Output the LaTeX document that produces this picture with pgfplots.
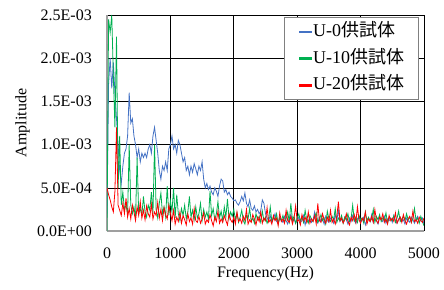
\documentclass[border=0pt]{standalone}
\usepackage{fontspec}
\setmainfont{Liberation Serif}
\newfontfamily\cjk{Noto Sans CJK JP}
\usepackage{pgfplots}
\usepackage{pgfplotstable}
\pgfplotsset{compat=1.18}
\definecolor{cblue}{HTML}{4472C4}
\definecolor{cgreen}{HTML}{00B050}
\definecolor{cred}{HTML}{FF0000}
% amplitudes in units of 1E-04, one row every 25 Hz from 0 to 5000 Hz
\pgfplotstableread[row sep=\\]{
b g r\\
2 0 5\\ 17 24.5 4.2\\ 20 23 3.6\\ 16.5 25 2.8\\ 19.5 18 2.2\\ 16 12 4.6\\ 13 22.5 12\\ 10 5 3\\ 7 11 2.4\\ 5.5 3 1.8\\
7.5 4.5 3.2\\ 9 2.5 2\\ 9.5 3 3.8\\ 11 2 1.6\\ 16 10 2.6\\ 12.5 3 1.4\\ 13 2 3\\ 11 2.8 2.2\\ 10 1.5 1.2\\ 8.5 8.5 2.8\\
9.5 2 1.8\\ 8 2.6 3.4\\ 9 1.8 1.5\\ 8.5 4 2.4\\ 9 2.2 1.3\\ 8.5 1.6 2.9\\ 9.5 3 2\\ 10 2.4 1.6\\ 9 4.5 3.1\\ 11 2 1.4\\
12 10 2.2\\ 10.5 2.5 1.8\\ 9 1.5 3.3\\ 7 3.2 1.5\\ 6 4.4 2.5\\ 7.5 2 1.2\\ 7 2.8 2.7\\ 8 1.6 1.9\\ 7 5.2 1.4\\ 9.5 1.8 3\\
10 3.5 2.1\\ 11 2.2 1.2\\ 9.5 5 2.4\\ 10 1.5 0.8\\ 9 4.2 1.6\\ 10.5 2 1.1\\ 10 1.2 2.2\\ 9 2.6 0.9\\ 8 1.8 1.8\\ 8.5 3 1.3\\
7 1.4 0.7\\ 7.5 2.2 2.0\\ 6.5 4 1.1\\ 7.5 1.6 1.5\\ 6.8 2.4 0.8\\ 7.8 1.3 2.6\\ 7.2 2.8 1.2\\ 6.5 1.5 1.0\\ 7.5 2 1.7\\ 7 3.2 0.9\\
8 1.2 1.4\\ 6 2.5 2.1\\ 5 1.6 0.8\\ 5.5 2.2 1.3\\ 4.8 1.4 1.0\\ 5.2 4.6 1.9\\ 4.5 1.8 1.2\\ 4.2 2.6 0.6\\ 5 1.3 1.6\\ 4.6 2 1.1\\
4 3.4 2.3\\ 5.2 1.5 0.9\\ 6 2.3 1.4\\ 5.8 1.2 1.0\\ 4.5 2.8 1.8\\ 4.8 1.6 1.2\\ 4.2 3.7 0.7\\ 4.5 1.4 2.0\\ 4 2.2 1.3\\ 3.8 1.7 1.0\\
3.5 2.5 1.6\\ 3.6 1.3 0.8\\ 3.2 2.1 2.2\\ 3.0 1.0 1.1\\ 3.4 1.6 1.4\\ 4.0 2.4 0.9\\ 3.5 1.2 1.7\\ 4.4 0.8 1.2\\ 3.2 1.8 2.5\\ 2.8 1.4 0.8\\
3.6 2.6 1.3\\ 2.6 1.1 1.0\\ 2.4 1.5 1.9\\ 2.9 0.9 1.4\\ 2.2 2.0 0.7\\ 2.5 1.3 1.6\\ 2.0 1.7 1.1\\ 2.3 1.0 2.2\\ 3.6 2.3 0.9\\ 3.2 1.2 1.5\\
2.0 1.6 1.2\\ 1.5 0.9 2.7\\ 1.2 1.4 1.0\\ 1.8 2.8 1.3\\ 1.0 1.1 0.8\\ 1.4 1.6 1.8\\ 2.0 1.3 1.2\\ 1.1 2.0 1.5\\ 0.9 0.8 0.6\\ 1.6 1.5 2.1\\
1.3 1.2 1.1\\ 1.0 1.8 1.4\\ 1.7 1.0 0.9\\ 1.2 1.4 2.4\\ 0.8 2.2 1.2\\ 1.5 1.1 1.0\\ 1.9 3.2 1.7\\ 1.1 1.3 0.8\\ 1.4 1.7 1.5\\ 0.9 0.9 2.9\\
1.3 1.5 1.1\\ 1.6 2.0 1.3\\ 1.0 1.2 0.7\\ 1.2 1.6 1.9\\ 1.8 1.0 1.2\\ 0.7 2.4 1.6\\ 1.4 1.3 1.0\\ 1.1 0.9 2.2\\ 1.5 1.8 0.9\\ 1.0 1.4 1.4\\
1.3 1.1 1.1\\ 2.2 1.6 1.8\\ 1.2 2.1 0.8\\ 0.9 1.0 3.2\\ 1.6 1.3 1.2\\ 1.1 1.9 1.0\\ 1.4 1.2 2.0\\ 0.8 1.5 1.3\\ 1.7 0.8 0.9\\ 1.2 2.3 1.6\\
1.0 1.4 1.1\\ 1.5 1.1 2.4\\ 1.3 1.7 1.0\\ 0.9 1.3 1.4\\ 1.9 2.6 0.8\\ 1.2 1.0 1.7\\ 2.4 1.5 3.4\\ 1.1 1.2 1.2\\ 1.4 1.8 1.5\\ 1.0 0.9 0.9\\
1.6 1.6 1.3\\ 1.3 1.3 2.0\\ 0.8 2.0 1.1\\ 1.5 1.1 0.7\\ 1.1 1.4 1.6\\ 1.8 3.0 1.2\\ 1.2 1.2 1.9\\ 0.9 1.6 1.0\\ 1.4 1.0 2.8\\ 1.7 1.8 1.3\\
1.0 1.3 0.9\\ 1.3 1.5 1.5\\ 1.6 0.9 1.2\\ 0.7 2.2 2.2\\ 1.2 1.2 0.8\\ 1.5 1.6 1.4\\ 1.1 1.1 1.1\\ 1.9 1.4 1.7\\ 1.0 2.5 1.0\\ 1.4 1.0 2.5\\
1.2 1.7 1.2\\ 0.8 1.3 0.9\\ 1.6 1.9 1.6\\ 1.3 1.1 1.3\\ 1.1 1.5 2.0\\ 1.7 1.2 1.0\\ 0.9 2.1 1.4\\ 1.4 0.9 0.8\\ 1.2 1.6 1.8\\ 1.5 1.4 1.2\\
1.0 1.2 1.5\\ 1.8 1.8 1.1\\ 1.2 1.0 2.1\\ 0.9 1.5 0.9\\ 1.4 2.3 1.3\\ 1.6 1.1 1.6\\ 1.1 1.4 1.0\\ 1.3 1.7 1.9\\ 0.8 1.2 1.2\\ 1.5 2.0 0.8\\
1.2 1.3 1.4\\ 1.0 1.6 1.7\\ 1.6 1.0 1.0\\ 1.3 1.4 2.3\\ 0.9 2.6 1.1\\ 1.4 1.2 1.3\\ 1.7 1.5 0.9\\ 1.1 0.9 1.6\\ 1.2 1.7 1.2\\ 1.5 1.1 1.0\\
0.8 0.6 1.5\\
}\spectra
\begin{document}
\begin{tikzpicture}
\begin{axis}[
  scale only axis, width=317pt, height=216pt,
  xmin=0, xmax=5000, ymin=0, ymax=25,
  xtick={0,1000,2000,3000,4000,5000},
  xticklabels={0,1000,2000,3000,4000,5000},
  ytick={0,5,10,15,20,25},
  yticklabels={0.0E+00,5.0E-04,1.0E-03,1.5E-03,2.0E-03,2.5E-03},
  grid=major, major grid style={black, line width=0.6pt},
  axis x line*=bottom, axis y line*=left,
  axis line style={gray!75, line width=1.3pt, -},
  major tick length=0pt,
  tick label style={font=\fontsize{16}{19}\selectfont, inner sep=0pt},
  xticklabel style={yshift=-17pt},
  yticklabel style={xshift=-15pt},
  xlabel={Frequency(Hz)}, ylabel={Amplitude},
  label style={font=\fontsize{16}{19}\selectfont, inner sep=0pt},
  xlabel style={at={(axis description cs:0.5,-0.213)}, anchor=base},
  ylabel style={at={(axis description cs:-0.243,0.5)}, anchor=south},
  legend style={at={(rel axis cs:1,1)}, xshift=-5pt, yshift=-2pt, anchor=north east,
    fill=white, draw=gray, line width=0.8pt,
    font=\fontsize{18}{21}\selectfont,
    row sep=11.7pt, inner xsep=14.5pt, inner ysep=7pt,
    column sep=1pt},
  legend cell align=left,
  every axis legend/.append style={nodes={inner sep=0pt, text height=12pt, text depth=3pt}},
  every axis plot/.append style={line width=0.8pt},
]
\addplot[color=cblue, legend image code/.code={\fill[cblue] (0pt,-0.8pt) rectangle (12pt,0.8pt);}] table[x expr=\coordindex*25, y=b] {\spectra};
\addlegendentry{U-0{\cjk 供試体}}
\addplot[color=cgreen, legend image code/.code={\fill[cgreen] (0pt,-0.8pt) rectangle (12pt,0.8pt);}] table[x expr=\coordindex*25, y=g] {\spectra};
\addlegendentry{U-10{\cjk 供試体}}
\addplot[color=cred, legend image code/.code={\fill[cred] (0pt,-0.8pt) rectangle (12pt,0.8pt);}] table[x expr=\coordindex*25, y=r] {\spectra};
\addlegendentry{U-20{\cjk 供試体}}
\coordinate (bl) at (rel axis cs:0,0);
\end{axis}
\pgfresetboundingbox
\path ([xshift=-107pt,yshift=-58pt]bl) rectangle ([xshift=337pt,yshift=231pt]bl);
\end{tikzpicture}
\end{document}
